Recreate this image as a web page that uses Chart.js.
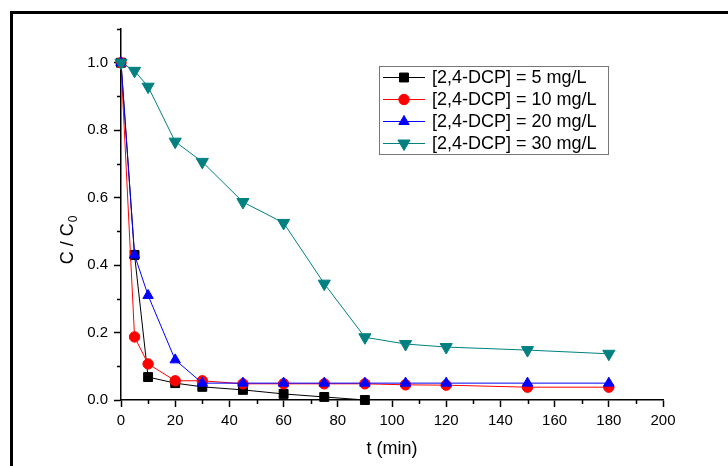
<!DOCTYPE html>
<html>
<head>
<meta charset="utf-8">
<script src="https://cdn.jsdelivr.net/npm/chart.js@4/dist/chart.umd.min.js"></script>
<style>
  html, body { margin: 0; padding: 0; background: #fff; overflow: hidden; }
  #wrap { position: relative; width: 728px; height: 466px; }
  #frame { position: absolute; left: 10px; top: 11px; width: 800px; height: 600px; border: 3px solid #000; box-sizing: border-box; }
  canvas { position: absolute; left: 0; top: 0; }
</style>
</head>
<body>
<div id="wrap">
  <div id="frame"></div>
  <canvas id="c" width="728" height="466"></canvas>
</div>
<script>
// ---- data ----
const times = [0, 5, 10, 20, 30, 45, 60, 75, 90, 105, 120, 150, 180];
const seriesLabels = ['[2,4-DCP] = 5 mg/L', '[2,4-DCP] = 10 mg/L', '[2,4-DCP] = 20 mg/L', '[2,4-DCP] = 30 mg/L'];
const c5  = [1.0, 0.43, 0.068, 0.05, 0.039, 0.03, 0.018, 0.009, 0.0];
const c10 = [1.0, 0.187, 0.107, 0.057, 0.057, 0.048, 0.048, 0.048, 0.048, 0.045, 0.044, 0.038, 0.038];
const c20 = [1.0, 0.43, 0.31, 0.119, 0.05, 0.05, 0.05, 0.05, 0.05, 0.05, 0.05, 0.05, 0.05];
const c30 = [1.0, 0.976, 0.929, 0.766, 0.706, 0.587, 0.525, 0.345, 0.186, 0.166, 0.157, 0.148, 0.137];
const xMajorTicks = [0, 20, 40, 60, 80, 100, 120, 140, 160, 180, 200];
const xMinorTicks = [10, 30, 50, 70, 90, 110, 130, 150, 170, 190];
const yMajorTicks = [0.0, 0.2, 0.4, 0.6, 0.8, 1.0];
const yMinorTicks = [0.1, 0.3, 0.5, 0.7, 0.9, 1.1];
const xTitle = 't (min)';
const yTitleMain = 'C / C';
const yTitleSub = '0';

const FONT = "'Liberation Sans', Arial, sans-serif";

function pts(vals) { return vals.map((v, i) => ({ x: times[i], y: v })); }

const styles = [
  { color: '#000000', pointStyle: 'rect', radius: 6.3, rotation: 0 },
  { color: '#ff0000', pointStyle: 'circle', radius: 5.2, rotation: 0 },
  { color: '#0000ff', pointStyle: 'triangle', radius: 6, rotation: 0 },
  { color: '#008080', pointStyle: 'triangle', radius: 7, rotation: 180 }
];
const seriesData = [c5, c10, c20, c30];

const datasets = seriesData.map((vals, i) => ({
  label: seriesLabels[i],
  data: pts(vals),
  borderColor: styles[i].color,
  backgroundColor: styles[i].color,
  borderWidth: 1,
  pointStyle: styles[i].pointStyle,
  pointRadius: styles[i].radius,
  pointRotation: styles[i].rotation,
  pointBackgroundColor: styles[i].color,
  pointBorderColor: styles[i].color,
  pointBorderWidth: 1,
  pointHoverRadius: styles[i].radius,
  tension: 0,
  fill: false,
  clip: false,
  order: 4 - i
}));

function drawMarker(ctx, st, x, y) {
  if (Chart.helpers && Chart.helpers.drawPoint) {
    ctx.save();
    ctx.fillStyle = st.color;
    ctx.strokeStyle = st.color;
    ctx.lineWidth = 1;
    Chart.helpers.drawPoint(ctx, { pointStyle: st.pointStyle, radius: st.radius, rotation: st.rotation, borderWidth: 1 }, x, y);
    ctx.restore();
  }
}

const decorPlugin = {
  id: 'decor',
  afterDraw(chart) {
    const ctx = chart.ctx;
    const xs = chart.scales.x, ys = chart.scales.y;
    const area = chart.chartArea;
    ctx.save();
    // minor ticks
    ctx.strokeStyle = '#000';
    ctx.lineWidth = 1.5;
    ctx.beginPath();
    xMinorTicks.forEach(v => {
      const px = Math.round(xs.getPixelForValue(v)) + 0.5;
      ctx.moveTo(px, area.bottom);
      ctx.lineTo(px, area.bottom + 4);
    });
    yMinorTicks.forEach(v => {
      const py = Math.round(ys.getPixelForValue(v)) + 0.5;
      ctx.moveTo(area.left, py);
      ctx.lineTo(area.left - 4, py);
    });
    ctx.stroke();

    // axis titles
    ctx.fillStyle = '#000';
    ctx.font = '18px ' + FONT;
    ctx.textAlign = 'center';
    ctx.textBaseline = 'middle';
    ctx.fillText(xTitle, (area.left + area.right) / 2, 449);

    ctx.save();
    ctx.translate(67, 240);
    ctx.rotate(-Math.PI / 2);
    ctx.font = '18px ' + FONT;
    const wMain = ctx.measureText(yTitleMain).width;
    ctx.font = '12px ' + FONT;
    const wSub = ctx.measureText(yTitleSub).width;
    const total = wMain + wSub + 1;
    ctx.textAlign = 'left';
    ctx.textBaseline = 'alphabetic';
    ctx.font = '18px ' + FONT;
    ctx.fillText(yTitleMain, -total / 2, 6);
    ctx.font = '12px ' + FONT;
    ctx.fillText(yTitleSub, -total / 2 + wMain + 1, 10);
    ctx.restore();

    // legend
    const lx = 379, ly = 66, lw = 229, lh = 88;
    ctx.strokeStyle = '#777';
    ctx.lineWidth = 1;
    ctx.strokeRect(lx + 0.5, ly + 0.5, lw, lh);
    const rows = [77, 99, 121, 143];
    chart.data.datasets.forEach((ds, i) => {
      const ry = rows[i];
      ctx.strokeStyle = styles[i].color;
      ctx.lineWidth = 1;
      ctx.beginPath();
      ctx.moveTo(383, ry + 0.5);
      ctx.lineTo(425, ry + 0.5);
      ctx.stroke();
      drawMarker(ctx, styles[i], 404, ry + 0.5);
      ctx.fillStyle = '#000';
      ctx.font = '18px ' + FONT;
      ctx.textAlign = 'left';
      ctx.textBaseline = 'middle';
      ctx.fillText(ds.label, 432, ry + 1);
    });
    ctx.restore();
  }
};

new Chart(document.getElementById('c'), {
  type: 'line',
  data: { datasets },
  plugins: [decorPlugin],
  options: {
    responsive: false,
    animation: false,
    devicePixelRatio: 1,
    layout: { padding: { left: 0, top: 29, right: 65, bottom: 0 } },
    plugins: { legend: { display: false }, tooltip: { enabled: false } },
    scales: {
      x: {
        type: 'linear',
        min: 0, max: 200,
        afterFit(scale) { scale.height = 66; },
        afterBuildTicks(scale) { scale.ticks = xMajorTicks.map(v => ({ value: v })); },
        grid: { drawOnChartArea: false, drawTicks: true, tickLength: 7, tickWidth: 1.5, tickColor: '#000' },
        border: { display: true, color: '#000', width: 1.5 },
        ticks: {
          color: '#000',
          font: { family: FONT, size: 15 },
          padding: 5,
          maxRotation: 0,
          autoSkip: false,
          callback: v => String(v)
        },
        title: { display: false }
      },
      y: {
        type: 'linear',
        min: 0, max: 1.1,
        afterFit(scale) { scale.width = 121; },
        afterBuildTicks(scale) { scale.ticks = yMajorTicks.map(v => ({ value: v })); },
        grid: { drawOnChartArea: false, drawTicks: true, tickLength: 7, tickWidth: 1.5, tickColor: '#000' },
        border: { display: true, color: '#000', width: 1.5 },
        ticks: {
          color: '#000',
          font: { family: FONT, size: 15 },
          padding: 6,
          autoSkip: false,
          callback: v => Number(v).toFixed(1)
        },
        title: { display: false }
      }
    }
  }
});
</script>
</body>
</html>
